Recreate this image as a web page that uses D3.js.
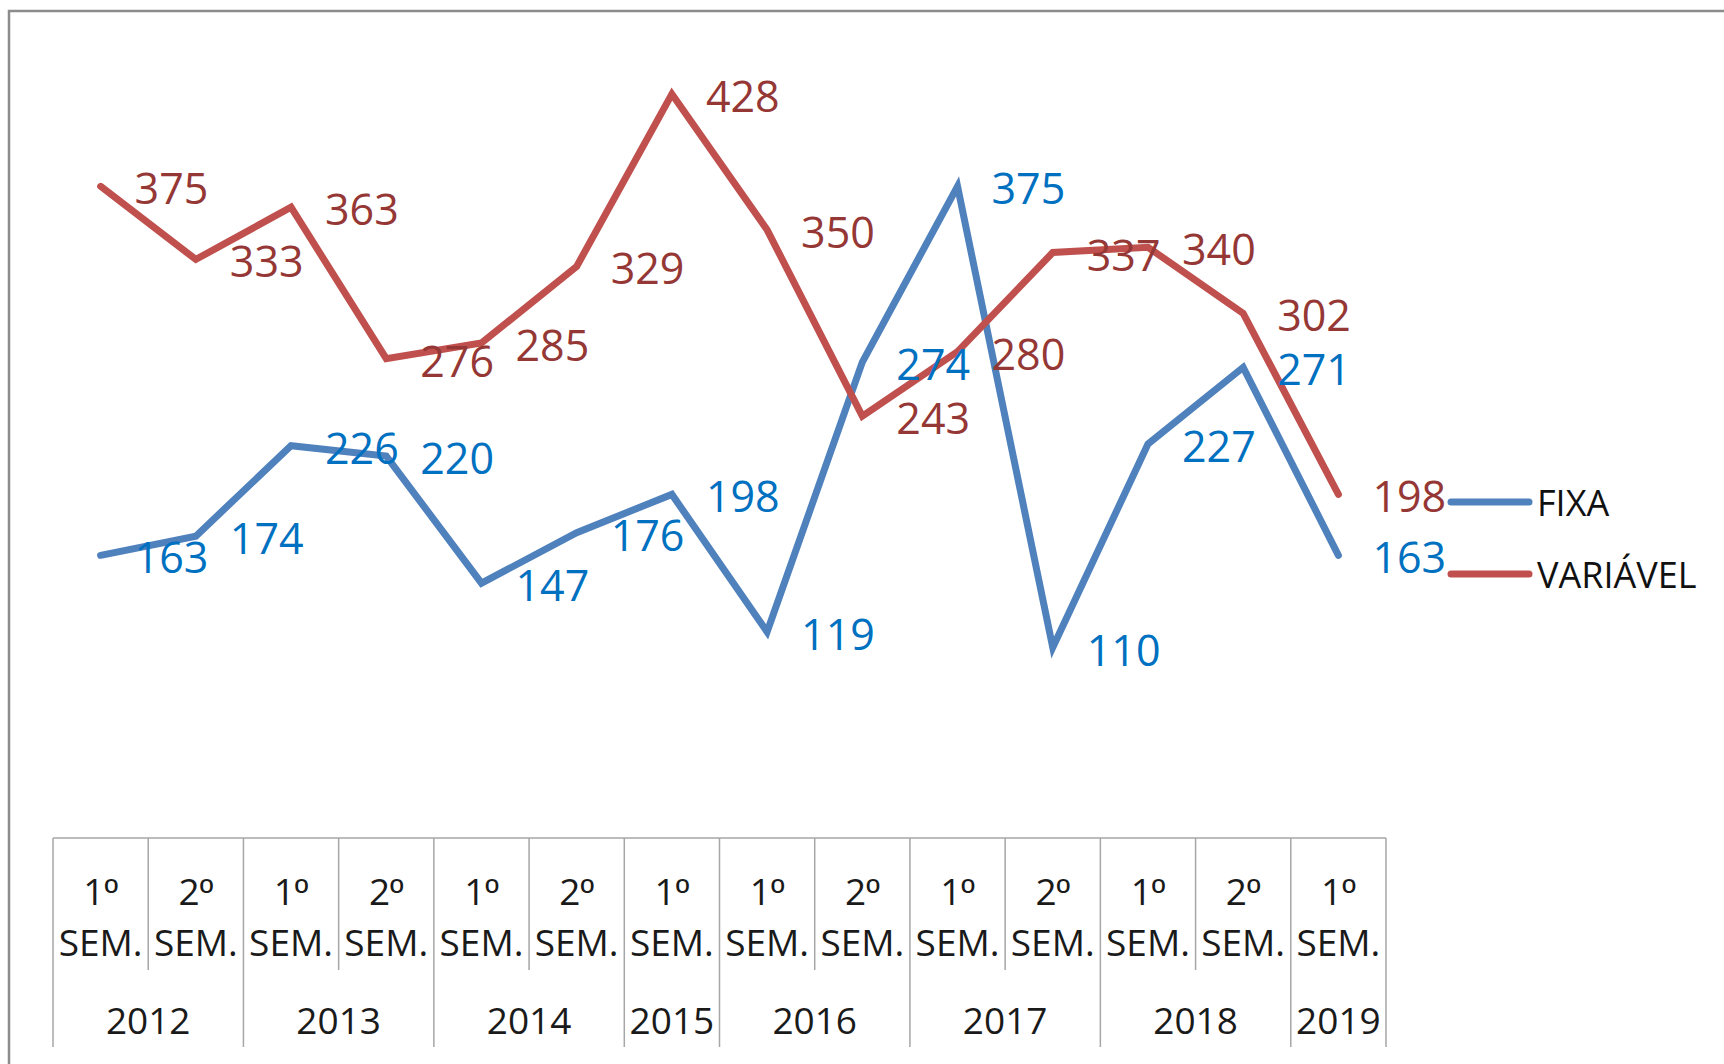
<!DOCTYPE html>
<html>
<head>
<meta charset="utf-8">
<script src="https://cdn.jsdelivr.net/npm/d3@7"></script>
<style>
  body { margin: 0; background: #fff; }
  svg { display: block; font-family: "Open Sans", sans-serif; }
</style>
</head>
<body>
<svg id="chart" width="1724" height="1064"></svg>
<script>
// data
var semNumbers = ["1", "2", "1", "2", "1", "2", "1", "1", "2", "1", "2", "1", "2", "1"];
var years = ["2012", "2013", "2014", "2015", "2016", "2017", "2018", "2019"];
var yearSpans = [2, 2, 2, 1, 2, 2, 2, 1];
var fixa = [163, 174, 226, 220, 147, 176, 198, 119, 274, 375, 110, 227, 271, 163];
var variavel = [375, 333, 363, 276, 285, 329, 428, 350, 243, 280, 337, 340, 302, 198];
var seriesNames = ["FIXA", "VARIÁVEL"];

var lineColors = ["#4F81BD", "#C0504D"];
var labelColors = ["#0070C0", "#953735"];

var svg = d3.select("#chart");

// chart frame (goes past the window on right and bottom)
svg.append("rect")
  .attr("x", 9).attr("y", 11)
  .attr("width", 1800).attr("height", 1200)
  .attr("fill", "#fff")
  .attr("stroke", "#8c8c8c")
  .attr("stroke-width", 2.5);

var idx = d3.range(semNumbers.length);

var x = d3.scaleBand()
  .domain(idx)
  .range([53, 1386])
  .paddingInner(0).paddingOuter(0);

var y = d3.scaleLinear()
  .domain([0, 470])
  .range([839, 21]);

var cx = function(i) { return x(i) + x.bandwidth() / 2; };

// category table
var tbl = svg.append("g").attr("class", "table");
var tableTop = 838;
var semBottom = 970;
var yearBottom = 1047;

tbl.append("line")
  .attr("x1", x.range()[0]).attr("x2", x.range()[1])
  .attr("y1", tableTop).attr("y2", tableTop)
  .attr("stroke", "#a6a6a6").attr("stroke-width", 1.5);

// year boundaries
var yearStart = [0];
yearSpans.forEach(function(s, k) { yearStart.push(yearStart[k] + s); });
var yearEdges = new Set(yearStart);

d3.range(semNumbers.length + 1).forEach(function(i) {
  var xx = i < semNumbers.length ? x(i) : x.range()[1];
  tbl.append("line")
    .attr("x1", xx).attr("x2", xx)
    .attr("y1", tableTop)
    .attr("y2", yearEdges.has(i) ? yearBottom : semBottom)
    .attr("stroke", "#a6a6a6").attr("stroke-width", 1.5);
});

var sem = tbl.selectAll("text.sem")
  .data(semNumbers)
  .enter().append("text")
  .attr("class", "sem")
  .attr("x", function(d, i) { return cx(i); })
  .attr("y", 892)
  .attr("dy", "0.35em")
  .attr("text-anchor", "middle")
  .attr("font-size", 37)
  .attr("fill", "#1a1a1a");
sem.append("tspan").text(function(d) { return d; });
// ordinal sign with its underline (Arial-like glyph)
sem.append("tspan")
  .attr("font-family", "'Liberation Sans', Arial, sans-serif")
  .text("º");

tbl.selectAll("text.semw")
  .data(semNumbers)
  .enter().append("text")
  .attr("class", "semw")
  .attr("x", function(d, i) { return cx(i); })
  .attr("y", 943)
  .attr("dy", "0.35em")
  .attr("text-anchor", "middle")
  .attr("font-size", 37)
  .attr("fill", "#1a1a1a")
  .text("SEM.");

tbl.selectAll("text.year")
  .data(years)
  .enter().append("text")
  .attr("class", "year")
  .attr("x", function(d, k) {
    var a = x(yearStart[k]);
    var b = yearStart[k + 1] < semNumbers.length ? x(yearStart[k + 1]) : x.range()[1];
    return (a + b) / 2;
  })
  .attr("y", 1021)
  .attr("dy", "0.35em")
  .attr("text-anchor", "middle")
  .attr("font-size", 37)
  .attr("fill", "#1a1a1a")
  .text(function(d) { return d; });

// lines
var line = d3.line()
  .x(function(d, i) { return cx(i); })
  .y(function(d) { return y(d); });

[fixa, variavel].forEach(function(series, s) {
  svg.append("path")
    .datum(series)
    .attr("d", line)
    .attr("fill", "none")
    .attr("stroke", lineColors[s])
    .attr("stroke-width", 7)
    .attr("stroke-linejoin", "miter")
    .attr("stroke-linecap", "round");
});

// data labels, placed to the right of each point
[fixa, variavel].forEach(function(series, s) {
  svg.append("g").selectAll("text")
    .data(series)
    .enter().append("text")
    .attr("x", function(d, i) { return cx(i) + 34; })
    .attr("y", function(d) { return y(d); })
    .attr("dy", "0.42em")
    .attr("font-size", 43)
    .attr("fill", labelColors[s])
    .text(function(d) { return d; });
});

// legend
var legend = svg.append("g");
var legendY = [502, 574];
seriesNames.forEach(function(name, s) {
  legend.append("line")
    .attr("x1", 1451).attr("x2", 1529)
    .attr("y1", legendY[s]).attr("y2", legendY[s])
    .attr("stroke", lineColors[s])
    .attr("stroke-width", 7)
    .attr("stroke-linecap", "round");
  legend.append("text")
    .attr("x", 1537)
    .attr("y", legendY[s])
    .attr("dy", "0.38em")
    .attr("font-size", 36)
    .attr("fill", "#111")
    .text(name);
});
</script>
</body>
</html>
